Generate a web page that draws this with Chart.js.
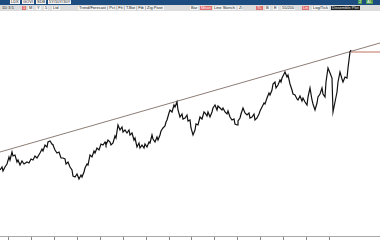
<!DOCTYPE html>
<html>
<head>
<meta charset="utf-8">
<script src="https://cdn.jsdelivr.net/npm/chart.js@4/dist/chart.umd.min.js"></script>
<style>
  html, body { margin: 0; padding: 0; background: #fff; }
  #wrap { position: relative; width: 380px; height: 240px; overflow: hidden; font-family: "Liberation Sans", Arial, sans-serif; }
  #chart { position: absolute; left: 0; top: 0; }
  .bar1 { position: absolute; left: 0; top: 0; width: 380px; height: 5px; background: #1d4d80; }
  .bar2 { position: absolute; left: 0; top: 5px; width: 380px; height: 6px; background: #dcdcdc; }
  .b { position: absolute; font-size: 4px; line-height: 4px; height: 4px; padding: 0 1px; white-space: nowrap; color: #222; }
  .w { background: #f4f4f4; }
  .r { background: #e07070; color: #fff; }
  .k { background: #222; color: #eee; }
  .g { background: #4a9a4a; color: #fff; }
</style>
</head>
<body>
<div id="wrap">
  <canvas id="chart" width="380" height="240"></canvas>
  <div class="bar1"></div>
  <div class="bar2"></div>
  <!-- верхняя полоса -->
  <span class="b w" style="left:10px;top:0">LDX</span>
  <span class="b w" style="left:22px;top:0">GOVI</span>
  <span class="b w" style="left:36px;top:0">SDB</span>
  <span class="b w" style="left:48px;top:0">5Y/10Y/30Y</span>
  <span class="b g" style="left:358px;top:0">2</span>
  <span class="b g" style="left:366px;top:0">AL</span>
  <!-- панель инструментов -->
  <span class="b" style="left:1px;top:6px">1D 3 5</span>
  <span class="b r" style="left:22px;top:6px">1</span>
  <span class="b w" style="left:28px;top:6px">M</span>
  <span class="b w" style="left:36px;top:6px">Y</span>
  <span class="b w" style="left:44px;top:6px">5</span>
  <span class="b w" style="left:52px;top:6px">Ltd</span>
  <span class="b w" style="left:78px;top:6px">Trend/Forecast | Pct | Fit | T.Bot | Fib | Zig Pivot</span>
  <span class="b w" style="left:190px;top:6px">Bar</span>
  <span class="b r" style="left:200px;top:6px">Mean</span>
  <span class="b w" style="left:213px;top:6px">Line Sketch</span>
  <span class="b w" style="left:238px;top:6px">Zi</span>
  <span class="b r" style="left:256px;top:6px">TL</span>
  <span class="b w" style="left:265px;top:6px">B</span>
  <span class="b w" style="left:273px;top:6px">E</span>
  <span class="b w" style="left:281px;top:6px">55/200</span>
  <span class="b r" style="left:302px;top:6px">Lin</span>
  <span class="b w" style="left:312px;top:6px">Log/Tick</span>
  <span class="b k" style="left:331px;top:6px">Dissemble Plot</span>
</div>
<script>
// ДАННЫЕ (дни и цены)
const priceDays = [0, 2, 3, 5, 7, 9, 10, 12, 13, 15, 17, 18, 20, 22, 24, 27, 29, 31, 33, 35,
  37, 40, 42, 43, 45, 47, 48, 50, 52, 53, 55, 57, 59, 61, 63, 65, 66, 68, 70, 72,
  73, 75, 77, 79, 81, 82, 84, 85, 87, 88, 90, 92, 94, 95, 97, 99, 101, 103, 105, 106,
  108, 110, 111, 113, 115, 116, 118, 120, 122, 123, 125, 127, 129, 130, 132, 134, 135, 137, 139, 140,
  142, 144, 145, 147, 149, 150, 152, 153, 155, 157, 158, 160, 161, 163, 165, 166, 167, 169, 170, 172,
  174, 175, 177, 178, 180, 182, 183, 185, 187, 188, 190, 191, 193, 195, 196, 198, 200, 202, 204, 205,
  207, 208, 210, 212, 213, 215, 217, 218, 220, 222, 223, 225, 227, 228, 230, 232, 234, 235, 237, 238,
  240, 241, 243, 245, 247, 249, 250, 252, 254, 255, 257, 259, 260, 262, 264, 265, 267, 269, 270, 272,
  273, 275, 276, 278, 280, 281, 282, 284, 285, 287, 288, 290, 292, 293, 295, 297, 298, 300, 302, 303,
  305, 307, 308, 310, 312, 313, 315, 317, 318, 320, 322, 323, 325, 326, 328, 330, 332, 333, 335, 337,
  338, 340, 342, 343, 345, 347, 348, 350, 351];
const priceValues = [83, 84.5, 82.5, 84.5, 86, 89.5, 88, 92, 90, 90.5, 87, 88, 85.5, 87.5, 86, 87, 86.5, 88.5, 88, 90,
  89, 91.5, 93.5, 92.5, 95.5, 94.5, 97, 97.5, 96, 95.5, 93, 91.5, 92, 89, 89, 88.5, 86, 87, 84.5, 83,
  80, 79.5, 81, 78.5, 80.5, 79.5, 82, 84, 86, 85.5, 90.5, 89.5, 92.5, 91.5, 94, 93, 96, 95.5, 97, 95.5,
  98, 97, 95.5, 96.5, 100, 99, 105.5, 103, 104.5, 102, 103, 101.5, 103, 100.5, 101.5, 98, 99, 94.5, 96.5, 94,
  95.5, 94, 96, 94.5, 97, 96.5, 100.5, 98.5, 97, 99.5, 98, 100.5, 102.5, 104, 105, 107, 108, 111.5, 113, 112,
  115.5, 114.5, 117, 113, 109.5, 111, 108.5, 109, 110.5, 107.5, 108, 104, 100.5, 103, 106, 105.5, 109.5, 108.5, 112, 111.5,
  110, 112, 109.5, 112, 114, 115.5, 113, 115, 114, 113, 114, 112, 111, 112.5, 109.5, 108, 108.5, 106, 105.5, 107.5,
  109, 111, 114, 111.5, 110.5, 111.5, 109, 109.5, 111, 108, 109, 111, 112.5, 114.5, 116.5, 116, 119, 121.5, 120.5, 123,
  126, 127, 124, 125.5, 128, 127, 129, 131, 132, 129.5, 130.5, 126, 123, 121, 120.5, 118.5, 118, 120, 117.5, 119,
  117, 115.5, 119.5, 124, 118, 116, 113, 116.5, 119.5, 121, 124, 121, 119.5, 127, 134, 131.5, 129, 112, 117, 122,
  127, 132, 128.5, 127, 129.5, 129, 134, 142, 143];
const trendDays = [0, 380];
const trendValues = [92, 146.5];
const levelDays = [351, 380];
const levelValues = [142, 142];
const tickDays = [8, 31, 54, 77, 100, 123, 146, 169, 191, 214, 237, 260, 283, 306, 329];

const toPoints = (xs, ys) => xs.map((x, i) => ({ x: x, y: ys[i] }));

// ГРАФИК
const ctx = document.getElementById('chart').getContext('2d');
new Chart(ctx, {
    type: 'line',
    data: {
        datasets: [
            { data: toPoints(priceDays, priceValues), borderColor: '#111', borderWidth: 1.2, pointRadius: 0, tension: 0 },
            { data: toPoints(trendDays, trendValues), borderColor: '#8c7e76', borderWidth: 1, pointRadius: 0 },
            { data: toPoints(levelDays, levelValues), borderColor: '#c0705f', borderWidth: 1, pointRadius: 0 }
        ]
    },
    options: {
        responsive: false, animation: false,
        layout: { padding: { top: 16, left: 0, right: 0, bottom: 0 } },
        plugins: { legend: { display: false }, tooltip: { enabled: false } },
        scales: {
            x: {
                type: 'linear', min: 0, max: 380,
                afterBuildTicks: s => { s.ticks = tickDays.map(v => ({ value: v })); },
                ticks: { display: false },
                grid: { drawOnChartArea: false, drawTicks: true, tickLength: 4, color: '#888' },
                border: { display: true, color: '#aaa' }
            },
            y: { display: false, min: 50, max: 160 }
        }
    }
});
</script>
</body>
</html>
